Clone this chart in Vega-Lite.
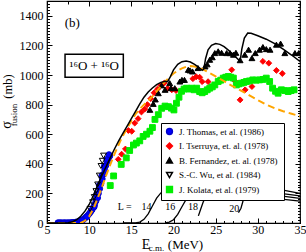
{
  "$schema": "https://vega.github.io/schema/vega-lite/v6.json",
  "autosize": "none",
  "padding": {"left": 47, "top": 1, "right": 6, "bottom": 29},
  "width": 253,
  "height": 222,
  "config": {
    "view": {"stroke": "black", "strokeWidth": 1.2},
    "font": "Liberation Serif",
    "axis": {"grid": false, "domain": false, "tickColor": "black", "labelColor": "black", "titleColor": "black", "labelFont": "Liberation Serif", "titleFont": "Liberation Serif", "titleFontWeight": "normal", "tickWidth": 1, "labelFlush": false, "labelOverlap": false, "labelBound": false}
  },
  "resolve": {"axis": {"x": "independent", "y": "independent"}},
  "datasets": {
    "pw": [
      {"L": 14, "E": 14, "s": 0}, {"L": 14, "E": 15.5, "s": 1}, {"L": 14, "E": 16, "s": 6}, {"L": 14, "E": 16.5, "s": 25}, {"L": 14, "E": 17, "s": 62}, {"L": 14, "E": 17.5, "s": 115}, {"L": 14, "E": 18, "s": 168}, {"L": 14, "E": 18.5, "s": 203}, {"L": 14, "E": 19, "s": 219}, {"L": 14, "E": 19.5, "s": 225}, {"L": 14, "E": 20, "s": 227}, {"L": 14, "E": 21, "s": 226}, {"L": 14, "E": 22, "s": 223}, {"L": 14, "E": 23, "s": 219}, {"L": 14, "E": 24, "s": 214}, {"L": 14, "E": 25, "s": 209}, {"L": 14, "E": 26, "s": 203}, {"L": 14, "E": 28, "s": 192}, {"L": 14, "E": 30, "s": 180}, {"L": 14, "E": 32, "s": 167}, {"L": 14, "E": 35, "s": 148},
      {"L": 16, "E": 19, "s": 0}, {"L": 16, "E": 19.5, "s": 6}, {"L": 16, "E": 20, "s": 22}, {"L": 16, "E": 20.5, "s": 58}, {"L": 16, "E": 21, "s": 110}, {"L": 16, "E": 21.5, "s": 160}, {"L": 16, "E": 22, "s": 198}, {"L": 16, "E": 22.5, "s": 217}, {"L": 16, "E": 23, "s": 224}, {"L": 16, "E": 23.5, "s": 227}, {"L": 16, "E": 24, "s": 227}, {"L": 16, "E": 25, "s": 225}, {"L": 16, "E": 26, "s": 221}, {"L": 16, "E": 28, "s": 212}, {"L": 16, "E": 30, "s": 200}, {"L": 16, "E": 32, "s": 188}, {"L": 16, "E": 35, "s": 166},
      {"L": 18, "E": 22.95, "s": 48}, {"L": 18, "E": 23.2, "s": 90}, {"L": 18, "E": 23.5, "s": 138}, {"L": 18, "E": 23.8, "s": 178}, {"L": 18, "E": 24.1, "s": 203}, {"L": 18, "E": 24.5, "s": 217}, {"L": 18, "E": 25, "s": 224}, {"L": 18, "E": 25.5, "s": 227}, {"L": 18, "E": 26, "s": 228}, {"L": 18, "E": 27, "s": 227}, {"L": 18, "E": 28, "s": 224}, {"L": 18, "E": 30, "s": 216}, {"L": 18, "E": 32, "s": 205}, {"L": 18, "E": 35, "s": 183},
      {"L": 20, "E": 27.7, "s": 70}, {"L": 20, "E": 28, "s": 100}, {"L": 20, "E": 28.2, "s": 140}, {"L": 20, "E": 28.4, "s": 182}, {"L": 20, "E": 28.7, "s": 208}, {"L": 20, "E": 29.1, "s": 220}, {"L": 20, "E": 29.6, "s": 226}, {"L": 20, "E": 30, "s": 228}, {"L": 20, "E": 31, "s": 229}, {"L": 20, "E": 32, "s": 227}, {"L": 20, "E": 33, "s": 222}, {"L": 20, "E": 35, "s": 200}
    ],
    "th": [
      {"E": 5, "s": 0}, {"E": 7.5, "s": 2}, {"E": 8, "s": 8}, {"E": 8.5, "s": 22}, {"E": 9, "s": 45}, {"E": 9.5, "s": 80}, {"E": 10, "s": 125}, {"E": 10.5, "s": 185}, {"E": 11, "s": 255}, {"E": 11.5, "s": 320}, {"E": 12, "s": 380}, {"E": 12.5, "s": 440}, {"E": 13, "s": 500}, {"E": 13.5, "s": 555}, {"E": 14, "s": 605}, {"E": 14.5, "s": 655}, {"E": 15, "s": 705}, {"E": 15.5, "s": 755}, {"E": 16, "s": 805}, {"E": 16.5, "s": 850}, {"E": 17, "s": 885}, {"E": 17.5, "s": 912}, {"E": 18, "s": 935}, {"E": 18.5, "s": 950}, {"E": 19, "s": 958}, {"E": 19.3, "s": 955}, {"E": 19.6, "s": 985}, {"E": 20, "s": 1035}, {"E": 20.5, "s": 1072}, {"E": 21, "s": 1090}, {"E": 21.5, "s": 1094}, {"E": 22, "s": 1088}, {"E": 22.5, "s": 1072}, {"E": 23, "s": 1052}, {"E": 23.4, "s": 1032}, {"E": 23.6, "s": 1040}, {"E": 23.8, "s": 1110}, {"E": 24.1, "s": 1170}, {"E": 24.5, "s": 1200}, {"E": 25, "s": 1212}, {"E": 25.5, "s": 1207}, {"E": 26, "s": 1192}, {"E": 26.5, "s": 1168}, {"E": 27, "s": 1142}, {"E": 27.5, "s": 1115}, {"E": 27.9, "s": 1092}, {"E": 28.1, "s": 1175}, {"E": 28.4, "s": 1250}, {"E": 28.8, "s": 1283}, {"E": 29.2, "s": 1282}, {"E": 30, "s": 1265}, {"E": 31, "s": 1242}, {"E": 32, "s": 1212}, {"E": 33, "s": 1175}, {"E": 34, "s": 1135}, {"E": 35, "s": 1092}
    ],
    "or": [
      {"E": 5, "s": 0}, {"E": 9, "s": 0}, {"E": 9.5, "s": 15}, {"E": 10, "s": 45}, {"E": 10.5, "s": 95}, {"E": 11, "s": 165}, {"E": 11.5, "s": 240}, {"E": 12, "s": 320}, {"E": 12.5, "s": 395}, {"E": 13, "s": 465}, {"E": 13.5, "s": 530}, {"E": 14, "s": 590}, {"E": 14.5, "s": 640}, {"E": 15, "s": 690}, {"E": 15.5, "s": 735}, {"E": 16, "s": 770}, {"E": 16.5, "s": 800}, {"E": 17, "s": 825}, {"E": 17.5, "s": 855}, {"E": 18, "s": 890}, {"E": 18.5, "s": 925}, {"E": 19, "s": 955}, {"E": 19.5, "s": 985}, {"E": 20, "s": 1010}, {"E": 20.5, "s": 1030}, {"E": 21, "s": 1045}, {"E": 21.5, "s": 1055}, {"E": 22, "s": 1060}, {"E": 22.5, "s": 1058}, {"E": 23, "s": 1050}, {"E": 23.5, "s": 1038}, {"E": 24, "s": 1022}, {"E": 25, "s": 990}, {"E": 26, "s": 958}, {"E": 27, "s": 925}, {"E": 28, "s": 895}, {"E": 29, "s": 862}, {"E": 30, "s": 830}, {"E": 31, "s": 800}, {"E": 32, "s": 775}, {"E": 33, "s": 755}, {"E": 34, "s": 738}, {"E": 35, "s": 722}
    ],
    "pts": [
      {"src": "Thomas", "E": 6.3, "s": 2}, {"src": "Thomas", "E": 6.45, "s": 1}, {"src": "Thomas", "E": 6.6, "s": 2}, {"src": "Thomas", "E": 6.75, "s": 1}, {"src": "Thomas", "E": 6.9, "s": 1}, {"src": "Thomas", "E": 7.05, "s": 2}, {"src": "Thomas", "E": 7.2, "s": 1}, {"src": "Thomas", "E": 7.35, "s": 1}, {"src": "Thomas", "E": 7.5, "s": 2}, {"src": "Thomas", "E": 7.65, "s": 1}, {"src": "Thomas", "E": 7.8, "s": 2}, {"src": "Thomas", "E": 7.95, "s": 3}, {"src": "Thomas", "E": 8.1, "s": 3}, {"src": "Thomas", "E": 8.25, "s": 4}, {"src": "Thomas", "E": 8.4, "s": 6}, {"src": "Thomas", "E": 8.55, "s": 7}, {"src": "Thomas", "E": 8.7, "s": 9}, {"src": "Thomas", "E": 8.85, "s": 12}, {"src": "Thomas", "E": 9.0, "s": 15}, {"src": "Thomas", "E": 9.15, "s": 19}, {"src": "Thomas", "E": 9.3, "s": 24}, {"src": "Thomas", "E": 9.45, "s": 30}, {"src": "Thomas", "E": 9.6, "s": 38}, {"src": "Thomas", "E": 9.75, "s": 46}, {"src": "Thomas", "E": 9.9, "s": 55}, {"src": "Thomas", "E": 10.05, "s": 66}, {"src": "Thomas", "E": 10.2, "s": 78}, {"src": "Thomas", "E": 10.35, "s": 90}, {"src": "Thomas", "E": 10.5, "s": 105}, {"src": "Thomas", "E": 10.65, "s": 125}, {"src": "Thomas", "E": 10.8, "s": 148}, {"src": "Thomas", "E": 10.95, "s": 172}, {"src": "Thomas", "E": 11.1, "s": 200}, {"src": "Thomas", "E": 11.25, "s": 232}, {"src": "Thomas", "E": 11.4, "s": 265}, {"src": "Thomas", "E": 11.55, "s": 298}, {"src": "Thomas", "E": 11.7, "s": 330}, {"src": "Thomas", "E": 11.85, "s": 360}, {"src": "Thomas", "E": 12.0, "s": 390}, {"src": "Thomas", "E": 12.15, "s": 415}, {"src": "Thomas", "E": 12.3, "s": 438}, {"src": "Thomas", "E": 12.45, "s": 452}, {"src": "Thomas", "E": 10.9, "s": 195}, {"src": "Thomas", "E": 11.2, "s": 255}, {"src": "Thomas", "E": 11.5, "s": 320}, {"src": "Thomas", "E": 11.8, "s": 385}, {"src": "Thomas", "E": 12.1, "s": 430}, {"src": "Thomas", "E": 12.35, "s": 462}, {"src": "Thomas", "E": 10.6, "s": 110}, {"src": "Thomas", "E": 11.0, "s": 170}, {"src": "Thomas", "E": 8.0, "s": 1}, {"src": "Thomas", "E": 8.3, "s": 3}, {"src": "Thomas", "E": 9.2, "s": 17}, {"src": "Thomas", "E": 9.7, "s": 42},
      {"src": "Wu", "E": 10.1, "s": 95}, {"src": "Wu", "E": 10.4, "s": 140}, {"src": "Wu", "E": 10.6, "s": 175}, {"src": "Wu", "E": 10.8, "s": 215}, {"src": "Wu", "E": 11.0, "s": 260}, {"src": "Wu", "E": 11.2, "s": 320}, {"src": "Wu", "E": 11.4, "s": 385}, {"src": "Wu", "E": 11.55, "s": 420}, {"src": "Wu", "E": 11.7, "s": 455},
      {"src": "Tserruya", "E": 13.45, "s": 430}, {"src": "Tserruya", "E": 13.85, "s": 465}, {"src": "Tserruya", "E": 14.3, "s": 500}, {"src": "Tserruya", "E": 14.65, "s": 625}, {"src": "Tserruya", "E": 15.05, "s": 620}, {"src": "Tserruya", "E": 15.4, "s": 675}, {"src": "Tserruya", "E": 15.8, "s": 705}, {"src": "Tserruya", "E": 16.2, "s": 750}, {"src": "Tserruya", "E": 16.6, "s": 770}, {"src": "Tserruya", "E": 16.9, "s": 800}, {"src": "Tserruya", "E": 17.3, "s": 840}, {"src": "Tserruya", "E": 17.7, "s": 880}, {"src": "Tserruya", "E": 18.1, "s": 905}, {"src": "Tserruya", "E": 18.5, "s": 930}, {"src": "Tserruya", "E": 18.9, "s": 945}, {"src": "Tserruya", "E": 19.3, "s": 910}, {"src": "Tserruya", "E": 19.8, "s": 900}, {"src": "Tserruya", "E": 20.3, "s": 895}, {"src": "Tserruya", "E": 22.3, "s": 975}, {"src": "Tserruya", "E": 22.7, "s": 988}, {"src": "Tserruya", "E": 23.1, "s": 985}, {"src": "Tserruya", "E": 23.4, "s": 955}, {"src": "Tserruya", "E": 24.1, "s": 955}, {"src": "Tserruya", "E": 25.5, "s": 960}, {"src": "Tserruya", "E": 26.0, "s": 985}, {"src": "Tserruya", "E": 26.9, "s": 1035}, {"src": "Tserruya", "E": 27.3, "s": 958}, {"src": "Tserruya", "E": 27.9, "s": 832}, {"src": "Tserruya", "E": 28.5, "s": 900}, {"src": "Tserruya", "E": 29.3, "s": 922}, {"src": "Tserruya", "E": 30.6, "s": 1092}, {"src": "Tserruya", "E": 31.3, "s": 1080}, {"src": "Tserruya", "E": 32.2, "s": 1031}, {"src": "Tserruya", "E": 32.9, "s": 1010},
      {"src": "Fernandez", "E": 17.2, "s": 765}, {"src": "Fernandez", "E": 17.6, "s": 805}, {"src": "Fernandez", "E": 17.85, "s": 835}, {"src": "Fernandez", "E": 18.2, "s": 877}, {"src": "Fernandez", "E": 18.6, "s": 930}, {"src": "Fernandez", "E": 19.0, "s": 900}, {"src": "Fernandez", "E": 19.55, "s": 945}, {"src": "Fernandez", "E": 19.7, "s": 911}, {"src": "Fernandez", "E": 20.15, "s": 911}, {"src": "Fernandez", "E": 20.75, "s": 956}, {"src": "Fernandez", "E": 21.0, "s": 967}, {"src": "Fernandez", "E": 21.3, "s": 967}, {"src": "Fernandez", "E": 21.75, "s": 1035}, {"src": "Fernandez", "E": 21.95, "s": 1031}, {"src": "Fernandez", "E": 22.25, "s": 1024}, {"src": "Fernandez", "E": 22.9, "s": 1047}, {"src": "Fernandez", "E": 23.75, "s": 1058}, {"src": "Fernandez", "E": 24.0, "s": 1072}, {"src": "Fernandez", "E": 24.3, "s": 1103}, {"src": "Fernandez", "E": 24.6, "s": 1120}, {"src": "Fernandez", "E": 24.9, "s": 1148}, {"src": "Fernandez", "E": 25.3, "s": 1160}, {"src": "Fernandez", "E": 25.7, "s": 1150}, {"src": "Fernandez", "E": 26.3, "s": 1148}, {"src": "Fernandez", "E": 26.7, "s": 1148}, {"src": "Fernandez", "E": 27.1, "s": 1137}, {"src": "Fernandez", "E": 27.4, "s": 1150}, {"src": "Fernandez", "E": 27.9, "s": 1100}, {"src": "Fernandez", "E": 28.45, "s": 1137}, {"src": "Fernandez", "E": 28.9, "s": 1171}, {"src": "Fernandez", "E": 29.3, "s": 1114}, {"src": "Fernandez", "E": 29.7, "s": 1148}, {"src": "Fernandez", "E": 30.2, "s": 1171}, {"src": "Fernandez", "E": 30.6, "s": 1189}, {"src": "Fernandez", "E": 31.0, "s": 1175}, {"src": "Fernandez", "E": 31.45, "s": 1171}, {"src": "Fernandez", "E": 32.2, "s": 1205}, {"src": "Fernandez", "E": 32.7, "s": 1212}, {"src": "Fernandez", "E": 33.2, "s": 1148}, {"src": "Fernandez", "E": 34.4, "s": 1148}, {"src": "Fernandez", "E": 34.85, "s": 1148},
      {"src": "Kolata", "E": 12.5, "s": 253}, {"src": "Kolata", "E": 12.9, "s": 318}, {"src": "Kolata", "E": 13.8, "s": 396}, {"src": "Kolata", "E": 14.4, "s": 440}, {"src": "Kolata", "E": 14.8, "s": 490}, {"src": "Kolata", "E": 15.25, "s": 527}, {"src": "Kolata", "E": 15.6, "s": 540}, {"src": "Kolata", "E": 16.0, "s": 555}, {"src": "Kolata", "E": 16.4, "s": 585}, {"src": "Kolata", "E": 16.8, "s": 600}, {"src": "Kolata", "E": 17.2, "s": 620}, {"src": "Kolata", "E": 17.5, "s": 645}, {"src": "Kolata", "E": 17.8, "s": 700}, {"src": "Kolata", "E": 18.2, "s": 732}, {"src": "Kolata", "E": 18.6, "s": 775}, {"src": "Kolata", "E": 19.0, "s": 790}, {"src": "Kolata", "E": 19.4, "s": 786}, {"src": "Kolata", "E": 19.75, "s": 776}, {"src": "Kolata", "E": 20.05, "s": 764}, {"src": "Kolata", "E": 20.35, "s": 809}, {"src": "Kolata", "E": 20.65, "s": 850}, {"src": "Kolata", "E": 20.95, "s": 890}, {"src": "Kolata", "E": 21.25, "s": 905}, {"src": "Kolata", "E": 21.55, "s": 911}, {"src": "Kolata", "E": 21.85, "s": 905}, {"src": "Kolata", "E": 22.15, "s": 911}, {"src": "Kolata", "E": 22.45, "s": 900}, {"src": "Kolata", "E": 22.75, "s": 911}, {"src": "Kolata", "E": 23.1, "s": 888}, {"src": "Kolata", "E": 23.4, "s": 880}, {"src": "Kolata", "E": 23.7, "s": 888}, {"src": "Kolata", "E": 24.0, "s": 900}, {"src": "Kolata", "E": 24.3, "s": 911}, {"src": "Kolata", "E": 24.6, "s": 920}, {"src": "Kolata", "E": 24.9, "s": 933}, {"src": "Kolata", "E": 25.3, "s": 956}, {"src": "Kolata", "E": 25.6, "s": 965}, {"src": "Kolata", "E": 25.9, "s": 979}, {"src": "Kolata", "E": 26.2, "s": 985}, {"src": "Kolata", "E": 26.5, "s": 990}, {"src": "Kolata", "E": 26.8, "s": 985}, {"src": "Kolata", "E": 27.1, "s": 979}, {"src": "Kolata", "E": 27.45, "s": 933}, {"src": "Kolata", "E": 27.75, "s": 940}, {"src": "Kolata", "E": 28.05, "s": 945}, {"src": "Kolata", "E": 28.35, "s": 950}, {"src": "Kolata", "E": 28.65, "s": 956}, {"src": "Kolata", "E": 29.0, "s": 960}, {"src": "Kolata", "E": 29.4, "s": 967}, {"src": "Kolata", "E": 29.8, "s": 965}, {"src": "Kolata", "E": 30.2, "s": 967}, {"src": "Kolata", "E": 30.6, "s": 970}, {"src": "Kolata", "E": 31.0, "s": 979}, {"src": "Kolata", "E": 31.4, "s": 956}, {"src": "Kolata", "E": 31.75, "s": 911}, {"src": "Kolata", "E": 32.1, "s": 890}, {"src": "Kolata", "E": 32.4, "s": 877}, {"src": "Kolata", "E": 32.8, "s": 900}, {"src": "Kolata", "E": 33.2, "s": 895}, {"src": "Kolata", "E": 33.6, "s": 888}, {"src": "Kolata", "E": 33.95, "s": 895}, {"src": "Kolata", "E": 34.3, "s": 900}
    ],
    "lab": [
      {"t": "L =", "E": 14.2, "s": 108}, {"t": "14", "E": 16.8, "s": 108}, {"t": "16", "E": 19.6, "s": 108}, {"t": "18", "E": 22.3, "s": 108}, {"t": "20", "E": 27.2, "s": 96}
    ],
    "box": [{"x1": 7.14, "x2": 14.05, "y1": 985, "y2": 1140}],
    "ann": [{"t": "(b)", "E": 8.0, "s": 1349}, {"t": "¹⁶O + ¹⁶O", "E": 10.6, "s": 1062}]
  },
  "layer": [
    {
      "data": {"name": "pw"},
      "mark": {"type": "line", "color": "black", "strokeWidth": 1.3, "clip": true},
      "encoding": {
        "x": {"field": "E", "type": "quantitative", "scale": {"domain": [5, 35], "nice": false, "zero": false}, "axis": {"orient": "top", "values": [5, 10, 15, 20, 25, 30, 35], "tickSize": -5, "labels": false, "title": null}},
        "y": {"field": "s", "type": "quantitative", "scale": {"domain": [0, 1500], "nice": false}, "axis": {"orient": "right", "values": [0, 200, 400, 600, 800, 1000, 1200, 1400], "tickSize": -5, "labels": false, "title": null}},
        "detail": {"field": "L", "type": "nominal"}
      }
    },
    {
      "data": {"name": "pts"},
      "mark": {"type": "point", "opacity": 1, "strokeWidth": 1, "size": 34, "clip": true},
      "encoding": {
        "x": {"field": "E", "type": "quantitative", "scale": {"domain": [5, 35], "nice": false, "zero": false}, "axis": {"orient": "top", "values": [7.5, 12.5, 17.5, 22.5, 27.5, 32.5], "tickSize": -3, "labels": false, "title": null}},
        "y": {"field": "s", "type": "quantitative", "scale": {"domain": [0, 1500], "nice": false}, "axis": {"orient": "right", "values": [0, 20, 40, 60, 80, 100, 120, 140, 160, 180, 200, 220, 240, 260, 280, 300, 320, 340, 360, 380, 400, 420, 440, 460, 480, 500, 520, 540, 560, 580, 600, 620, 640, 660, 680, 700, 720, 740, 760, 780, 800, 820, 840, 860, 880, 900, 920, 940, 960, 980, 1000, 1020, 1040, 1060, 1080, 1100, 1120, 1140, 1160, 1180, 1200, 1220, 1240, 1260, 1280, 1300, 1320, 1340, 1360, 1380, 1400, 1420, 1440, 1460, 1480], "tickSize": -2.5, "labels": false, "title": null}},
        "shape": {"field": "src", "type": "nominal", "scale": {"domain": ["Thomas", "Tserruya", "Fernandez", "Wu", "Kolata"], "range": ["circle", "diamond", "triangle-up", "triangle-down", "square"]},
          "legend": {"title": null, "orient": "none", "legendX": 114, "legendY": 122, "strokeColor": "black", "fillColor": "white", "padding": 4, "labelFont": "Liberation Serif", "labelFontSize": 9, "labelColor": "black", "symbolSize": 34, "rowPadding": 1.5, "labelOffset": 5, "labelLimit": 200,
            "labelExpr": "datum.label == 'Thomas' ? 'J. Thomas, et al. (1986)' : datum.label == 'Tserruya' ? 'I. Tserruya, et. al.  (1978)' : datum.label == 'Fernandez' ? 'B. Fernandez, et. al.  (1978)' : datum.label == 'Wu' ? 'S.-C. Wu, et al. (1984)' : 'J. Kolata, et al. (1979)'"}},
        "fill": {"field": "src", "type": "nominal", "scale": {"domain": ["Thomas", "Tserruya", "Fernandez", "Wu", "Kolata"], "range": ["#0000ff", "#ff0000", "#000000", "transparent", "#00ee00"]},
          "legend": {"title": null, "orient": "none", "legendX": 114, "legendY": 122, "strokeColor": "black", "fillColor": "white", "padding": 4, "labelFont": "Liberation Serif", "labelFontSize": 9, "labelColor": "black", "symbolSize": 34, "rowPadding": 1.5, "labelOffset": 5, "labelLimit": 200,
            "labelExpr": "datum.label == 'Thomas' ? 'J. Thomas, et al. (1986)' : datum.label == 'Tserruya' ? 'I. Tserruya, et. al.  (1978)' : datum.label == 'Fernandez' ? 'B. Fernandez, et. al.  (1978)' : datum.label == 'Wu' ? 'S.-C. Wu, et al. (1984)' : 'J. Kolata, et al. (1979)'"}},
        "stroke": {"field": "src", "type": "nominal", "scale": {"domain": ["Thomas", "Tserruya", "Fernandez", "Wu", "Kolata"], "range": ["#0000cc", "#ff0000", "#000000", "#000000", "#00ee00"]},
          "legend": {"title": null, "orient": "none", "legendX": 114, "legendY": 122, "strokeColor": "black", "fillColor": "white", "padding": 4, "labelFont": "Liberation Serif", "labelFontSize": 9, "labelColor": "black", "symbolSize": 34, "rowPadding": 1.5, "labelOffset": 5, "labelLimit": 200,
            "labelExpr": "datum.label == 'Thomas' ? 'J. Thomas, et al. (1986)' : datum.label == 'Tserruya' ? 'I. Tserruya, et. al.  (1978)' : datum.label == 'Fernandez' ? 'B. Fernandez, et. al.  (1978)' : datum.label == 'Wu' ? 'S.-C. Wu, et al. (1984)' : 'J. Kolata, et al. (1979)'"}}
      }
    },
    {
      "data": {"name": "or"},
      "mark": {"type": "line", "color": "#ffa500", "strokeWidth": 2, "strokeDash": [7, 4], "clip": true},
      "encoding": {
        "x": {"field": "E", "type": "quantitative", "scale": {"domain": [5, 35], "nice": false, "zero": false}, "axis": {"orient": "bottom", "values": [5, 6, 7, 8, 9, 10, 11, 12, 13, 14, 15, 16, 17, 18, 19, 20, 21, 22, 23, 24, 25, 26, 27, 28, 29, 30, 31, 32, 33, 34, 35], "tickSize": -2.5, "labels": false, "title": null}},
        "y": {"field": "s", "type": "quantitative", "scale": {"domain": [0, 1500], "nice": false}, "axis": {"orient": "left", "values": [0, 20, 40, 60, 80, 100, 120, 140, 160, 180, 200, 220, 240, 260, 280, 300, 320, 340, 360, 380, 400, 420, 440, 460, 480, 500, 520, 540, 560, 580, 600, 620, 640, 660, 680, 700, 720, 740, 760, 780, 800, 820, 840, 860, 880, 900, 920, 940, 960, 980, 1000, 1020, 1040, 1060, 1080, 1100, 1120, 1140, 1160, 1180, 1200, 1220, 1240, 1260, 1280, 1300, 1320, 1340, 1360, 1380, 1400, 1420, 1440, 1460, 1480], "tickSize": -2.5, "labels": false, "title": null}}
      }
    },
    {
      "data": {"name": "th"},
      "mark": {"type": "line", "color": "black", "strokeWidth": 1.5, "clip": true},
      "encoding": {
        "x": {"field": "E", "type": "quantitative", "scale": {"domain": [5, 35], "nice": false, "zero": false}, "axis": {"orient": "bottom", "values": [5, 10, 15, 20, 25, 30, 35], "format": "d", "tickSize": -5, "labelPadding": 6.5, "labelFontSize": 12, "title": "E", "titleX": 98.5, "titleY": 25, "titleAlign": "center", "titleBaseline": "alphabetic", "titleAngle": 0, "titleFontSize": 14}},
        "y": {"field": "s", "type": "quantitative", "scale": {"domain": [0, 1500], "nice": false}, "axis": {"orient": "left", "values": [0, 200, 400, 600, 800, 1000, 1200, 1400], "format": "d", "tickSize": -5, "labelPadding": 9, "labelFontSize": 12, "title": "σ", "titleX": -37, "titleY": 123.5, "titleAlign": "center", "titleBaseline": "alphabetic", "titleAngle": -90, "titleFontSize": 14}}
      }
    },
    {
      "data": {"name": "lab"},
      "mark": {"type": "text", "font": "Liberation Serif", "fontSize": 10, "color": "black", "baseline": "middle", "align": "center"},
      "encoding": {
        "x": {"field": "E", "type": "quantitative", "scale": {"domain": [5, 35], "nice": false, "zero": false}, "axis": {"orient": "bottom", "ticks": false, "labels": false, "title": "c.m.", "titleX": 109, "titleY": 27.5, "titleAlign": "center", "titleBaseline": "alphabetic", "titleAngle": 0, "titleFontSize": 9}},
        "y": {"field": "s", "type": "quantitative", "scale": {"domain": [0, 1500], "nice": false}, "axis": {"orient": "left", "ticks": false, "labels": false, "title": "fusion", "titleX": -30.5, "titleY": 113.5, "titleAlign": "center", "titleBaseline": "alphabetic", "titleAngle": -90, "titleFontSize": 9}},
        "text": {"field": "t", "type": "nominal"}
      }
    },
    {
      "data": {"name": "box"},
      "mark": {"type": "rect", "fill": "white", "stroke": "black", "strokeWidth": 1.5},
      "encoding": {
        "x": {"field": "x1", "type": "quantitative", "scale": {"domain": [5, 35], "nice": false, "zero": false}, "axis": {"orient": "bottom", "ticks": false, "labels": false, "title": "(MeV)", "titleX": 138, "titleY": 25, "titleAlign": "center", "titleBaseline": "alphabetic", "titleAngle": 0, "titleFontSize": 13}},
        "x2": {"field": "x2"},
        "y": {"field": "y1", "type": "quantitative", "scale": {"domain": [0, 1500], "nice": false}, "axis": {"orient": "left", "ticks": false, "labels": false, "title": "(mb)", "titleX": -36, "titleY": 85, "titleAlign": "center", "titleBaseline": "alphabetic", "titleAngle": -90, "titleFontSize": 12.5}},
        "y2": {"field": "y2"}
      }
    },
    {
      "data": {"name": "ann"},
      "mark": {"type": "text", "font": "Liberation Serif", "fontSize": 13, "color": "black", "baseline": "middle", "align": "center"},
      "encoding": {
        "x": {"field": "E", "type": "quantitative", "scale": {"domain": [5, 35], "nice": false, "zero": false}, "axis": null},
        "y": {"field": "s", "type": "quantitative", "scale": {"domain": [0, 1500], "nice": false}, "axis": null},
        "text": {"field": "t", "type": "nominal"}
      }
    }
  ]
}
